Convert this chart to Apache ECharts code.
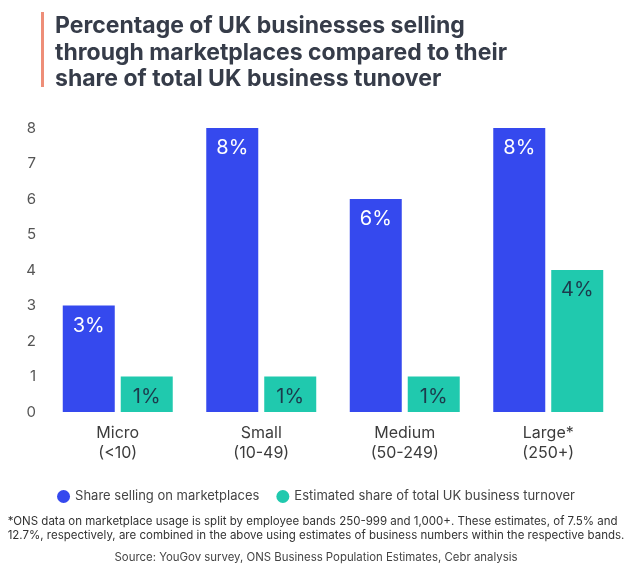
<!DOCTYPE html>
<html>
<head>
<meta charset="utf-8">
<script src="https://cdn.jsdelivr.net/npm/echarts@6/dist/echarts.min.js"></script>
<style>
html,body{margin:0;padding:0;background:#fff;}
#chart{width:632px;height:579px;}
</style>
</head>
<body>
<div id="chart"></div>
<script>
const categories = ['Micro\n(<10)', 'Small\n(10-49)', 'Medium\n(50-249)', 'Large*\n(250+)'];
const sellingShare = [3, 8, 6, 8];
const turnoverShare = [1, 1, 1, 4];
const seriesNames = ['Share selling on marketplaces', 'Estimated share of total UK business turnover'];
const yTicks = [0, 1, 2, 3, 4, 5, 6, 7, 8];
const titleText = 'Percentage of UK businesses selling\nthrough marketplaces compared to their\nshare of total UK business tunover';
const footnote = '*ONS data on marketplace usage is split by employee bands 250-999 and 1,000+. These estimates, of 7.5% and\n12.7%, respectively, are combined in the above using estimates of business numbers within the respective bands.';
const sourceText = 'Source: YouGov survey, ONS Business Population Estimates, Cebr analysis';

const chart = echarts.init(document.getElementById('chart'));
const font = 'Inter, "Noto Sans", sans-serif';
chart.setOption({
  backgroundColor: '#fff',
  title: {
    text: titleText,
    left: 50, top: 8,
    textStyle: { fontFamily: font, fontSize: 23, fontWeight: 700, color: '#363c49', lineHeight: 26.5 }
  },
  graphic: [
    { type: 'rect', shape: { x: 41, y: 12, width: 3, height: 75 }, style: { fill: '#ee8e78' } },
    { type: 'text', left: 'center', top: 514, style: { text: footnote, font: '11.5px ' + font, fill: '#333', lineHeight: 14.5, align: 'center' } },
    { type: 'text', left: 'center', top: 552, style: { text: sourceText, font: '11.4px ' + font, fill: '#444' } }
  ],
  legend: {
    top: 485, left: 'center',
    icon: 'circle', itemWidth: 13, itemHeight: 13, itemGap: 17,
    textStyle: { fontFamily: font, fontSize: 13, color: '#444' },
    data: seriesNames
  },
  grid: { left: 46, right: 12, top: 128, bottom: 167, containLabel: false },
  xAxis: {
    type: 'category', data: categories,
    axisLine: { show: false }, axisTick: { show: false },
    axisLabel: { fontFamily: font, fontSize: 16, lineHeight: 20, color: '#3c3c3c', margin: 11 }
  },
  yAxis: {
    type: 'value', min: 0, max: 8, interval: 1,
    splitLine: { show: false }, axisLine: { show: false }, axisTick: { show: false },
    axisLabel: { fontFamily: font, fontSize: 15, color: '#555', margin: 10,
      formatter: v => yTicks.includes(v) ? String(v) : '' }
  },
  series: [
    {
      name: seriesNames[0], type: 'bar', data: sellingShare,
      barWidth: 52, barGap: '11.5%',
      itemStyle: { color: '#3549ee' },
      label: { show: true, position: 'insideTop', distance: 10, formatter: '{c}%',
        fontFamily: font, fontSize: 20, color: '#fff' }
    },
    {
      name: seriesNames[1], type: 'bar', data: turnoverShare,
      barWidth: 52,
      itemStyle: { color: '#20c9ae' },
      label: { show: true, position: 'insideTop', distance: 10, formatter: '{c}%',
        fontFamily: font, fontSize: 20, color: '#1c3a4c' }
    }
  ]
});
</script>
</body>
</html>
